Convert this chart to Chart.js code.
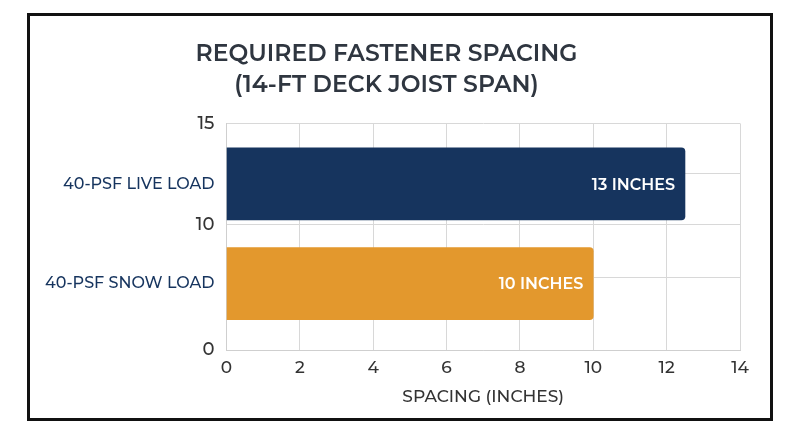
<!DOCTYPE html>
<html>
<head>
<meta charset="utf-8">
<script src="https://cdn.jsdelivr.net/npm/chart.js@4.4.1/dist/chart.umd.min.js"></script>
<style>
    html, body { margin: 0; padding: 0; background: #ffffff; }
    #moldura {
        position: absolute;
        left: 27px;
        top: 13px;
        width: 740px;
        height: 402px;
        border: 3px solid #111111;
        background: #ffffff;
    }
    #grafico { display: block; }
</style>
</head>
<body>
<div id="moldura">
    <canvas id="grafico" width="740" height="402"></canvas>
</div>
<script>
// dados
const categorias = ['40-PSF LIVE LOAD', '40-PSF SNOW LOAD'];
const espacamento = [12.5, 10];
const rotulosBarras = ['13 INCHES', '10 INCHES'];
// posição de cada barra na escala da esquerda (0 a 15)
const linhasCategorias = [11, 4.4];

// escala da esquerda: onde ficam as linhas de grade e o texto de cada uma
const ticksEsquerda = [0, 4.8, 8.33, 11.67, 15];
const rotulosEsquerda = ['0', '', '10', '', '15'];

const ticksX = [0, 2, 4, 6, 8, 10, 12, 14];

const coresBarras = ['#16345e', '#e3982d'];
const fonte = "Montserrat, 'Open Sans', sans-serif";

// junta linhas de grade e nomes das categorias numa lista só de ticks
const ticksY = [];
for (let i = 0; i < ticksEsquerda.length; i++) {
    ticksY.push({ value: ticksEsquerda[i], label: rotulosEsquerda[i], categoria: false });
}
for (let i = 0; i < categorias.length; i++) {
    ticksY.push({ value: linhasCategorias[i], label: categorias[i], categoria: true });
}
ticksY.sort((a, b) => a.value - b.value);

function ehCategoria(c) {
    const t = c && c.index !== undefined ? ticksY[c.index] : undefined;
    return t ? t.categoria : false;
}

const dadosBarras = [];
for (let i = 0; i < categorias.length; i++) {
    dadosBarras.push({ x: espacamento[i], y: linhasCategorias[i] });
}

const rotulosNasBarras = {
    id: 'rotulosNasBarras',
    afterDatasetsDraw(chart) {
        const ctx = chart.ctx;
        const meta = chart.getDatasetMeta(0);
        ctx.save();
        ctx.fillStyle = '#ffffff';
        ctx.font = '600 16px ' + fonte;
        ctx.textAlign = 'right';
        ctx.textBaseline = 'middle';
        meta.data.forEach((barra, i) => {
            ctx.fillText(rotulosBarras[i], barra.x - 10, barra.y + 1);
        });
        ctx.restore();
    }
};

const config = {
    type: 'bar',
    data: {
        datasets: [{
            data: dadosBarras,
            backgroundColor: coresBarras,
            barThickness: 72,
            borderRadius: 4,
            borderSkipped: 'start'
        }]
    },
    options: {
        indexAxis: 'y',
        responsive: false,
        animation: false,
        layout: { padding: { left: 3, right: 30, bottom: 7 } },
        plugins: {
            legend: { display: false },
            tooltip: { enabled: false },
            title: {
                display: true,
                text: ['REQUIRED FASTENER SPACING', '(14-FT DECK JOIST SPAN)'],
                color: '#2f3640',
                font: { family: fonte, size: 23.5, weight: '600', lineHeight: 1.35 },
                padding: { top: 22, bottom: 22 }
            }
        },
        scales: {
            x: {
                type: 'linear',
                min: 0,
                max: 14,
                afterBuildTicks: (eixo) => {
                    eixo.ticks = ticksX.map(v => ({ value: v }));
                },
                grid: { color: '#d8d8d8', drawTicks: false },
                border: { color: '#cfcfcf' },
                ticks: {
                    color: '#333333',
                    padding: 8,
                    font: { family: fonte, size: 17, weight: '500' }
                },
                title: {
                    display: true,
                    text: 'SPACING (INCHES)',
                    color: '#333333',
                    font: { family: fonte, size: 17, weight: '500' },
                    padding: { top: 0 }
                }
            },
            y: {
                type: 'linear',
                min: 0,
                max: 15,
                offset: false,
                afterBuildTicks: (eixo) => {
                    eixo.ticks = ticksY.map(t => ({ value: t.value }));
                },
                grid: {
                    offset: false,
                    drawTicks: false,
                    color: (c) => ehCategoria(c) ? 'rgba(0,0,0,0)' : '#d8d8d8'
                },
                border: { color: '#cfcfcf' },
                ticks: {
                    autoSkip: false,
                    padding: 12,
                    callback: (valor, indice) => ticksY[indice] ? ticksY[indice].label : '',
                    color: (c) => ehCategoria(c) ? '#16345e' : '#333333',
                    font: (c) => ehCategoria(c)
                        ? { family: fonte, size: 16, weight: '500' }
                        : { family: fonte, size: 18, weight: '500' }
                }
            }
        }
    },
    plugins: [rotulosNasBarras]
};

new Chart(document.getElementById('grafico').getContext('2d'), config);
</script>
</body>
</html>
